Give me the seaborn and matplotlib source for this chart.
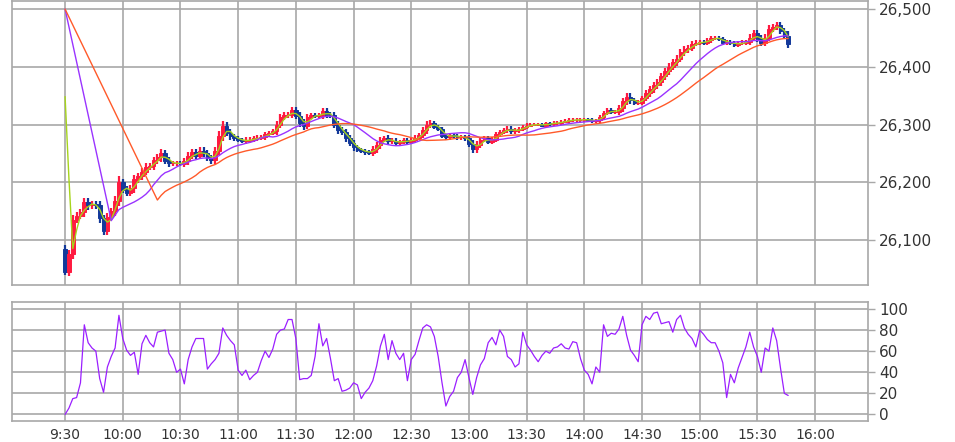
import numpy as np
import pandas as pd
import seaborn as sns
import matplotlib.pyplot as plt
from matplotlib.ticker import FuncFormatter

# 2-minute bars starting 9:30 (close prices)
closes = [
    26045, 26075, 26135, 26142, 26148, 26165, 26160, 26162, 26160, 26138,
    26115, 26140, 26150, 26168, 26200, 26187, 26182, 26190, 26205, 26210,
    26218, 26227, 26228, 26238, 26243, 26250, 26237, 26233, 26233, 26233,
    26232, 26236, 26246, 26252, 26246, 26255, 26250, 26242, 26238, 26255,
    26280, 26298, 26286, 26280, 26276, 26273, 26272, 26272, 26274, 26276,
    26277, 26278, 26283, 26285, 26288, 26300, 26313, 26316, 26317, 26325,
    26315, 26302, 26298, 26313, 26316, 26315, 26316, 26323, 26317, 26316,
    26300, 26290, 26287, 26276, 26268, 26261, 26256, 26254, 26252, 26251,
    26257, 26264, 26273, 26276, 26271, 26272, 26268, 26270, 26273, 26270,
    26273, 26277, 26282, 26290, 26300, 26302, 26296, 26292, 26280, 26278,
    26282, 26280, 26278, 26278, 26276, 26267, 26257, 26265, 26273, 26276,
    26270, 26274, 26283, 26287, 26290, 26293, 26288, 26290, 26292, 26296,
    26298, 26300, 26300, 26300, 26298, 26302, 26301, 26303, 26303, 26305,
    26306, 26308, 26308, 26308, 26308, 26309, 26308, 26306, 26307, 26313,
    26320, 26325, 26322, 26322, 26328, 26340, 26348, 26342, 26337, 26338,
    26346, 26354, 26361, 26368, 26373, 26384, 26392, 26400, 26408, 26414,
    26425, 26430, 26432, 26440, 26442, 26443, 26442, 26446, 26450, 26450,
    26448, 26441, 26443, 26441, 26438, 26441, 26442, 26443, 26450, 26458,
    26449, 26442, 26450, 26466, 26469, 26472, 26462, 26454, 26440,
]
first_open = 26085
# how far high/low reach beyond each candle body (points)
wicks = [
    6, 8, 8, 6, 6, 8, 8, 6, 6, 8,
    6, 6, 6, 8, 10, 6, 6, 6, 8, 6,
    6, 6, 6, 6, 6, 8, 6, 6, 4, 4,
    4, 6, 6, 6, 6, 6, 6, 6, 6, 6,
    8, 8, 6, 6, 4, 4, 4, 6, 4, 4,
    4, 4, 4, 4, 4, 6, 6, 6, 4, 6,
    6, 6, 8, 6, 4, 4, 4, 6, 6, 4,
    6, 6, 6, 6, 6, 6, 4, 4, 4, 4,
    6, 6, 6, 4, 6, 4, 4, 4, 4, 4,
    4, 4, 4, 6, 6, 6, 4, 4, 4, 4,
    4, 4, 4, 4, 4, 6, 6, 6, 6, 4,
    4, 4, 4, 4, 4, 4, 4, 4, 4, 4,
    4, 3, 3, 3, 3, 3, 3, 3, 3, 3,
    3, 3, 3, 3, 3, 3, 3, 3, 3, 4,
    4, 4, 4, 4, 6, 6, 6, 6, 4, 4,
    4, 6, 6, 6, 6, 6, 6, 6, 6, 6,
    6, 6, 6, 4, 4, 4, 4, 4, 4, 4,
    4, 4, 4, 4, 4, 4, 4, 4, 6, 6,
    6, 6, 6, 6, 6, 6, 6, 6, 8,
]
ma_seed = 26500

rsi = [
    0, 6, 15, 16, 30, 85, 68, 63, 60, 34,
    21, 45, 55, 63, 94, 72, 61, 56, 59, 38,
    67, 75, 68, 64, 78, 79, 80, 58, 52, 40,
    43, 29, 52, 64, 72, 72, 72, 43, 48, 52,
    58, 82, 75, 70, 66, 42, 37, 42, 33, 37,
    40, 51, 60, 54, 62, 76, 80, 81, 90, 90,
    72, 33, 34, 34, 37, 55, 86, 65, 72, 53,
    32, 34, 22, 23, 25, 30, 28, 15, 21, 25,
    32, 46, 65, 76, 52, 70, 58, 52, 58, 32,
    52, 57, 70, 82, 85, 83, 74, 55, 30, 8,
    17, 22, 35, 40, 52, 35, 19, 35, 47, 53,
    68, 73, 66, 80, 74, 55, 52, 45, 48, 78,
    66, 61, 55, 50, 56, 60, 58, 63, 64, 67,
    63, 62, 69, 68, 53, 42, 38, 29, 45, 40,
    85, 74, 77, 76, 81, 93, 75, 61, 56, 50,
    85, 93, 90, 96, 97, 86, 87, 88, 78, 90,
    94, 82, 76, 72, 64, 80, 76, 71, 68, 68,
    60, 49, 16, 38, 30, 44, 54, 64, 78, 64,
    55, 40, 63, 60, 82, 70, 44, 20, 18,
]

time_labels = ["9:30", "10:00", "10:30", "11:00", "11:30", "12:00", "12:30",
               "13:00", "13:30", "14:00", "14:30", "15:00", "15:30", "16:00"]
price_ticks = [26100, 26200, 26300, 26400, 26500]
rsi_ticks = [0, 20, 40, 60, 80, 100]

df = pd.DataFrame({"minute": np.arange(len(closes)) * 2, "close": closes,
                   "rsi": rsi, "wick": wicks})
df["open"] = df["close"].shift(1).fillna(first_open)
df["high"] = df[["open", "close"]].max(axis=1) + df["wick"]
df["low"] = df[["open", "close"]].min(axis=1) - df["wick"]

# short MA: window padded with the seed value
pad = pd.Series([ma_seed] * 2 + closes)
df["ma_short"] = pad.rolling(3).mean().iloc[2:].to_numpy()


# longer MAs: seed point at the open, then nothing until the window fills
def moving_avg(values, n):
    ma = pd.Series(values).rolling(n).mean()
    ma.iloc[0] = ma_seed
    return ma.to_numpy()


df["ma_mid"] = moving_avg(closes, 13)
df["ma_long"] = moving_avg(closes, 25)

sns.set_style("white")
plt.rcParams['font.family'] = ['DejaVu Sans']

grid_c = "#a8a8a8"
fig = plt.figure(figsize=(9.55, 4.42), dpi=100)
ax = fig.add_axes([12 / 955, 1 - 285 / 442, 856 / 955, 284 / 442])
ax2 = fig.add_axes([12 / 955, 1 - 421 / 442, 856 / 955, 119 / 442])

# candles
up = df["close"] >= df["open"]
cols = np.where(up, "#ff1a40", "#13399a")
ax.vlines(df["minute"], df["low"], df["high"], colors=cols, linewidth=1.6, zorder=3)
ax.bar(df["minute"], df["close"] - df["open"], bottom=df["open"], width=1.9,
       color=cols, edgecolor=cols, linewidth=0.7, zorder=3)

sns.lineplot(data=df, x="minute", y="ma_short", ax=ax, color="#a6d41c", linewidth=1.0, zorder=4)
sns.lineplot(data=df[["minute", "ma_mid"]].dropna(), x="minute", y="ma_mid", ax=ax,
             color="#9a33ff", linewidth=1.0, zorder=4)
sns.lineplot(data=df[["minute", "ma_long"]].dropna(), x="minute", y="ma_long", ax=ax,
             color="#ff5a2a", linewidth=1.0, zorder=4)

sns.lineplot(data=df, x="minute", y="rsi", ax=ax2, color="#9b1fff", linewidth=0.9, zorder=3)

xticks = list(range(0, 391, 30))
for a in (ax, ax2):
    a.set_xlim(-27.6, 417.5)
    a.set_xticks(xticks)
    a.grid(True, color=grid_c, linewidth=1.2)
    a.set_axisbelow(True)
    for s in a.spines.values():
        s.set_color(grid_c)
        s.set_linewidth(1.2)
    a.yaxis.tick_right()
    a.tick_params(axis="y", length=5, width=1.0, color=grid_c, labelsize=11,
                  labelcolor="#333333", pad=3)
    a.set_xlabel("")
    a.set_ylabel("")

ax.set_ylim(26022, 26514)
ax.set_yticks(price_ticks)
ax.yaxis.set_major_formatter(FuncFormatter(lambda v, p: f"{int(v):,}"))
ax.tick_params(axis="x", length=0, labelbottom=False)

ax2.set_ylim(-6.2, 106.6)
ax2.set_yticks(rsi_ticks)
ax2.set_xticklabels(time_labels)
ax2.tick_params(axis="x", length=0, labelsize=10, labelcolor="#333333", pad=5)

fig.savefig("out.png", dpi=100)
